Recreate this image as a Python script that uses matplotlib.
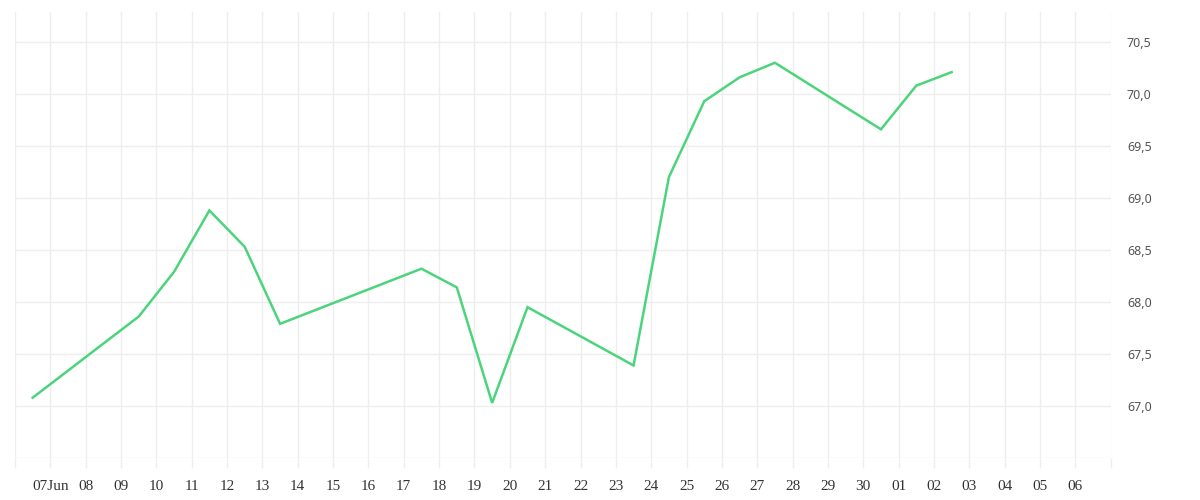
import datetime as dt
import matplotlib
matplotlib.use('Agg')
import matplotlib.pyplot as plt
import matplotlib.dates as mdates
from matplotlib.ticker import FixedLocator, FuncFormatter

# valores (un punto por dia, a mediodia)
dias = ['2025-06-06', '2025-06-09', '2025-06-10', '2025-06-11', '2025-06-12',
        '2025-06-13', '2025-06-17', '2025-06-18', '2025-06-19', '2025-06-20',
        '2025-06-23', '2025-06-24', '2025-06-25', '2025-06-26', '2025-06-27',
        '2025-06-30', '2025-07-01', '2025-07-02']
valores = [67.08, 67.86, 68.29, 68.88, 68.53,
           67.79, 68.32, 68.14, 67.03, 67.95,
           67.39, 69.20, 69.93, 70.16, 70.30,
           69.66, 70.08, 70.21]
y_ticks = [67.0, 67.5, 68.0, 68.5, 69.0, 69.5, 70.0, 70.5]

fechas = [dt.datetime.strptime(d, '%Y-%m-%d') + dt.timedelta(hours=12) for d in dias]
inicio = dt.datetime(2025, 6, 6)
fin = dt.datetime(2025, 7, 7)
ticks_x = [inicio + dt.timedelta(days=i) for i in range((fin - inicio).days + 1)]

def etiqueta(x, pos):
    d = mdates.num2date(x)
    if d.day == 6 and d.month == 6 or d.month == 7 and d.day == 7:
        return ''
    if d.day == 7 and d.month == 6:
        return '07Jun'
    return d.strftime('%d')

fig = plt.figure(figsize=(12, 5), dpi=100)
ax = fig.add_axes([15/1200, 42/500, (1110.7-15)/1200, 446/500])

ax.plot(fechas, valores, color='#4cd47c', linewidth=1.8, solid_joinstyle='miter')

ax.set_xlim(inicio, fin)
ax.set_ylim(66.5, 70.788)

ax.xaxis.set_major_locator(FixedLocator(mdates.date2num(ticks_x)))
ax.xaxis.set_major_formatter(FuncFormatter(etiqueta))
ax.yaxis.set_major_locator(FixedLocator([66.5] + y_ticks))
ax.yaxis.set_major_formatter(FuncFormatter(
    lambda v, p: '' if abs(v - 66.5) < 1e-6 else ('%.1f' % v).replace('.', ',')))

ax.yaxis.tick_right()
ax.grid(True, color='#eeeeee', linewidth=1)
ax.set_axisbelow(True)
for s in ax.spines.values():
    s.set_visible(False)

ax.tick_params(axis='x', length=7.5, width=1, color='#eeeeee', pad=8,
               labelsize=11, labelcolor='#333333')
ax.tick_params(axis='y', length=0, pad=11.7, labelsize=9, labelcolor='#555555')
for t in ax.get_xticklabels():
    t.set_family('Liberation Serif')
for t in ax.get_yticklabels():
    t.set_family('Noto Sans')

plt.savefig('out.png', dpi=100)
